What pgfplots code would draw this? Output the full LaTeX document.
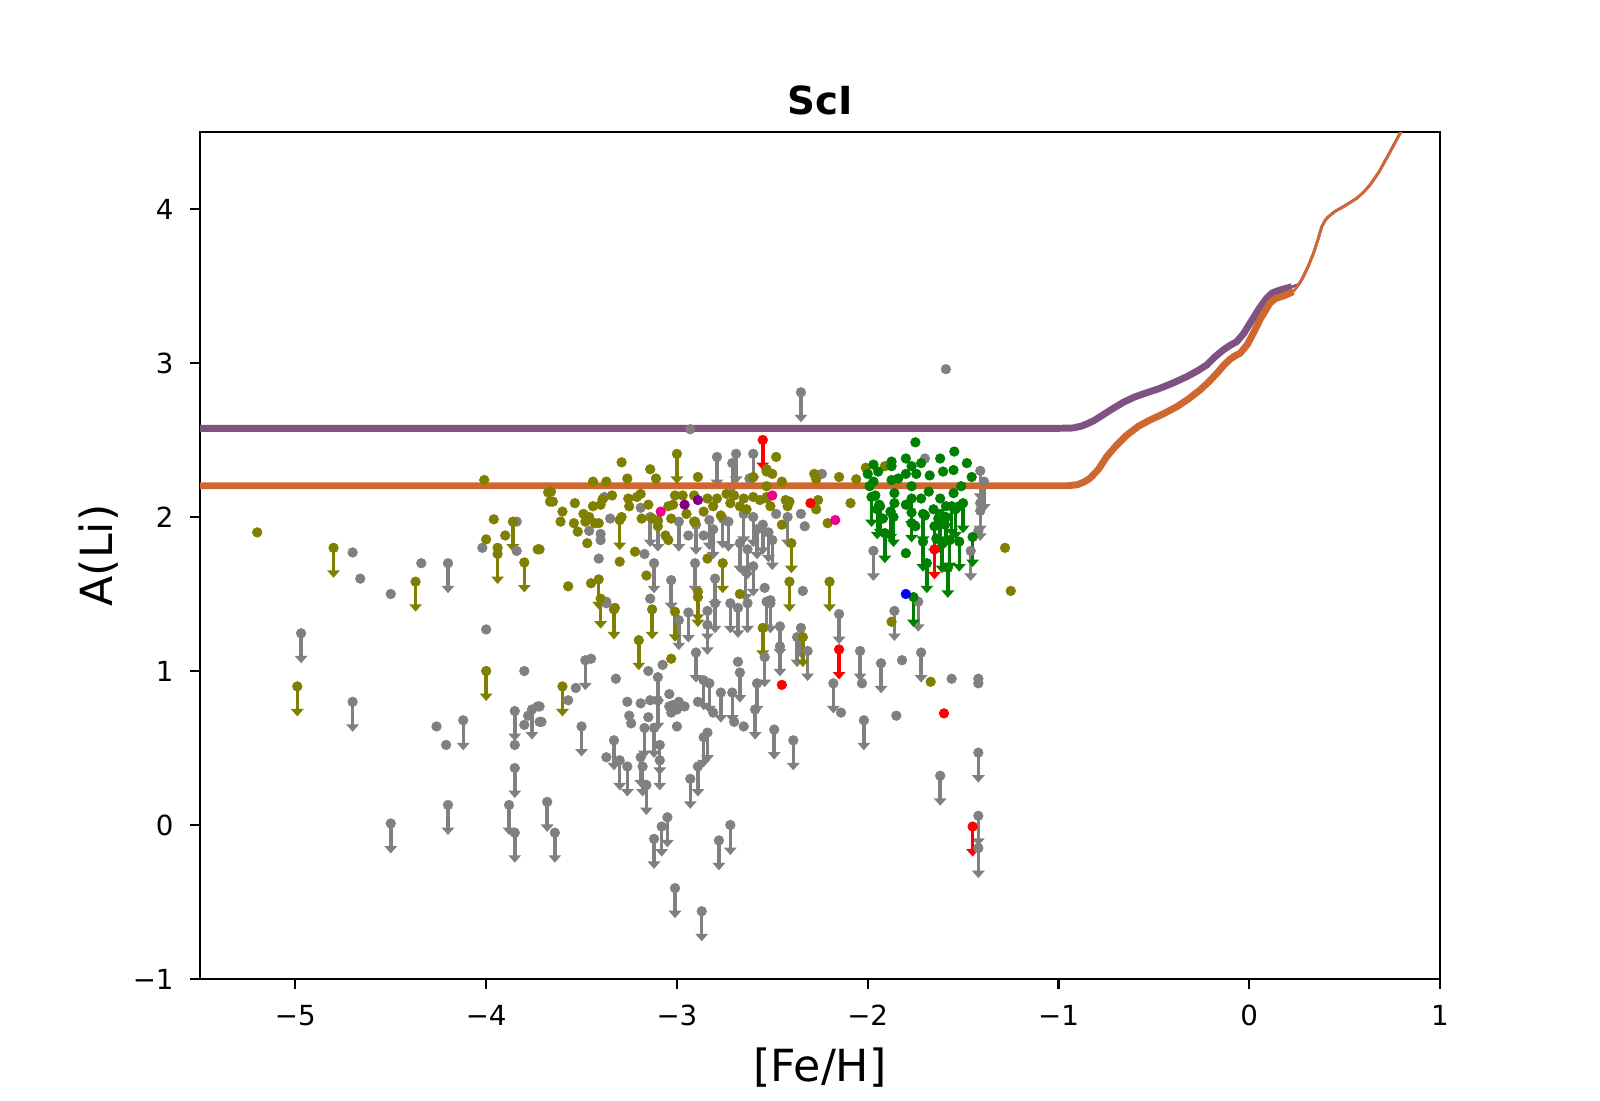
\documentclass[border=0pt]{standalone}
\usepackage{fontspec}
\setmainfont{DejaVu Sans}
\usepackage{pgfplots}
\pgfplotsset{compat=1.18}
\usetikzlibrary{arrows.meta}
\definecolor{cgray}{RGB}{128,128,128}
\definecolor{colive}{RGB}{128,128,0}
\definecolor{cgreen}{RGB}{0,128,0}
\definecolor{cpurp}{RGB}{128,0,128}
\definecolor{lpurp}{RGB}{127,82,130}
\definecolor{lorange}{RGB}{207,104,48}
\pgfplotsset{
  ul/.style={quiver={u=0,v=-0.195}, line width=1.25pt, -{Triangle[width=4.5pt,length=2.7pt]}},
  dot/.style={only marks, mark=*, mark size=1.75pt, mark options={line width=0.2pt}},
}
\begin{document}
\begin{tikzpicture}
\begin{axis}[
  scale only axis, width=6.2in, height=4.235in,
  xmin=-5.5, xmax=1, ymin=-1, ymax=4.5,
  axis line style={line width=0.8bp},
  tick align=outside, major tick length=3.5bp,
  every tick/.style={black, line width=0.8bp},
  xtick pos=lower, ytick pos=left,
  xtick={-5,-4,-3,-2,-1,0,1}, xticklabels={−5,−4,−3,−2,−1,0,1},
  ytick={-1,0,1,2,3,4}, yticklabels={−1,0,1,2,3,4},
  tick label style={font=\fontsize{10}{12}\selectfont},
  xticklabel style={yshift=-2.5pt},
  yticklabel style={xshift=-2.5pt},
  title={ScI},
  title style={font=\fontsize{14}{17}\selectfont\bfseries, at={(axis description cs:0.5,1.0174)}, anchor=center},
  xlabel={[Fe/H]},
  xlabel style={font=\fontsize{16}{19}\selectfont, at={(axis description cs:0.5,-0.104)}, anchor=center},
  ylabel={A(Li)},
  ylabel style={font=\fontsize{16}{19}\selectfont, at={(axis description cs:-0.0815,0.5)}, anchor=center},
]
% ---------- gray upper limits ----------
\pgfplotstableread{
x y
-4.20 1.70
-4.97 1.245
-4.70 0.80
-4.12 0.68
-3.85 0.74
-3.76 0.75
-3.85 0.37
-4.20 0.13
-3.88 0.13
-3.68 0.15
-3.85 -0.05
-4.50 0.01
-3.64 -0.05
-3.26 0.38
-3.30 0.42
-3.18 0.38
-3.19 0.44
-3.16 0.26
-3.09 0.42
-2.93 0.30
-2.89 0.38
-3.05 0.05
-3.08 -0.01
-3.12 -0.09
-2.72 0.00
-2.78 -0.10
-3.01 -0.41
-2.87 -0.56
-2.99 1.33
-2.94 1.38
-2.84 1.39
-2.80 1.44
-2.72 1.44
-2.68 1.41
-2.63 1.44
-2.84 1.30
-2.54 1.09
-3.48 1.07
-2.90 1.12
-2.67 0.99
-2.86 0.94
-2.83 0.92
-3.10 0.96
-3.10 0.81
-2.77 0.86
-2.71 0.86
-2.58 0.92
-2.59 0.75
-3.50 0.64
-3.17 0.63
-3.12 0.63
-3.33 0.55
-3.09 0.52
-2.84 0.60
-2.86 0.57
-2.53 1.45
-2.51 1.44
-2.15 1.37
-1.86 1.39
-1.735 1.45
-2.46 1.29
-2.46 1.16
-2.35 1.28
-2.37 1.22
-2.315 1.13
-2.18 0.92
-2.04 1.13
-1.93 1.05
-1.72 1.12
-2.02 0.68
-2.49 0.62
-2.39 0.55
-1.62 0.32
-1.42 0.47
-1.42 0.06
-1.42 -0.15
-2.79 2.39
-2.69 2.41
-2.71 2.35
-2.60 2.41
-3.14 2.00
-3.10 1.97
-2.99 1.97
-2.90 1.95
-2.83 1.98
-2.81 1.92
-2.76 1.99
-2.73 1.97
-2.65 2.02
-2.60 2.00
-2.58 1.92
-2.55 1.95
-2.52 1.90
-2.50 1.85
-2.67 1.83
-2.63 1.79
-3.12 1.70
-3.03 1.59
-2.905 1.70
-2.80 1.60
-2.60 1.68
-2.64 1.645
-2.35 2.81
-2.42 2.00
-1.97 1.78
-1.41 2.30
-1.39 2.23
-1.41 2.09
-1.41 2.04
-1.46 1.78
}\grayul
\addplot[cgray, ul] table {\grayul};
\addplot[cgray, dot] table {\grayul};
% ---------- gray detections ----------
\addplot[cgray, dot] table {
x y
-4.70 1.77
-4.66 1.60
-4.50 1.50
-4.34 1.70
-4.02 1.80
-3.84 1.97
-3.84 1.78
-4.00 1.27
-3.80 1.00
-4.26 0.64
-4.21 0.52
-3.73 0.77
-3.78 0.71
-3.80 0.65
-3.72 0.67
-3.85 0.52
-3.37 1.44
-3.075 1.04
-3.15 1.00
-3.45 1.08
-3.32 0.95
-3.53 0.89
-3.57 0.81
-3.72 0.77
-3.71 0.67
-2.68 1.06
-3.04 0.85
-2.99 0.80
-3.02 0.78
-2.96 0.77
-3.04 0.77
-3.00 0.75
-3.03 0.73
-2.89 0.80
-2.81 0.73
-2.70 0.67
-2.65 0.64
-3.26 0.80
-3.19 0.79
-3.14 0.81
-3.25 0.71
-3.24 0.66
-3.15 0.70
-3.00 0.64
-3.37 0.44
-2.14 0.73
-2.03 0.92
-1.82 1.07
-1.56 0.95
-1.42 0.95
-1.42 0.92
-1.85 0.71
-2.93 2.57
-2.62 2.25
-3.38 2.13
-3.35 1.99
-3.46 1.91
-3.40 1.89
-3.40 1.85
-3.19 2.06
-2.94 1.88
-2.86 1.88
-3.17 1.76
-3.41 1.73
-3.14 1.47
-3.37 1.45
-1.59 2.96
-2.24 2.28
-2.48 2.02
-2.35 2.02
-2.33 1.94
-2.54 1.54
-2.51 1.46
-2.34 1.52
-1.70 2.38
-1.42 1.91
};
% ---------- model lines ----------
\addplot[lpurp, line width=2.5bp, line join=round] table {
x y
-5.5 2.576
-1.0 2.576
-0.924 2.578
-0.88 2.59
-0.85 2.605
-0.815 2.625
-0.782 2.651
-0.72 2.70
-0.66 2.745
-0.60 2.78
-0.53 2.81
-0.468 2.836
-0.40 2.87
-0.328 2.911
-0.27 2.95
-0.223 2.987
-0.18 3.04
-0.136 3.085
-0.10 3.115
-0.066 3.138
-0.03 3.19
0.004 3.258
0.05 3.35
0.091 3.42
0.12 3.455
0.161 3.474
0.223 3.495
};
\addplot[lorange, line width=2.5bp, line join=round] table {
x y
-5.5 2.203
-0.95 2.203
-0.90 2.21
-0.865 2.228
-0.835 2.251
-0.79 2.31
-0.747 2.392
-0.70 2.46
-0.642 2.532
-0.58 2.59
-0.52 2.63
-0.45 2.67
-0.38 2.716
-0.32 2.765
-0.258 2.825
-0.21 2.88
-0.17 2.933
-0.13 2.99
-0.10 3.025
-0.07 3.05
-0.048 3.063
-0.01 3.12
0.021 3.193
0.06 3.29
0.109 3.39
0.14 3.42
0.179 3.435
0.231 3.463
};
\addplot[lpurp, line width=1bp, line join=round] table {
x y
0.223 3.495
0.26 3.51
0.283 3.56
0.31 3.63
0.336 3.71
0.36 3.80
0.38 3.885
0.40 3.93
0.415 3.95
0.45 3.985
0.493 4.015
0.563 4.069
0.60 4.11
0.633 4.156
0.68 4.24
0.72 4.33
0.79 4.49
0.85 4.62
};
\addplot[lorange, line width=1bp, line join=round] table {
x y
0.231 3.463
0.26 3.51
0.283 3.56
0.31 3.63
0.336 3.71
0.36 3.80
0.38 3.885
0.40 3.93
0.415 3.95
0.45 3.985
0.493 4.015
0.563 4.069
0.60 4.11
0.633 4.156
0.68 4.24
0.72 4.33
0.79 4.49
0.85 4.62
};
% ---------- olive ----------
\pgfplotstableread{
x y
-4.80 1.80
-4.37 1.58
-3.86 1.97
-3.94 1.76
-3.80 1.705
-4.99 0.90
-4.00 1.00
-3.00 2.41
-3.30 1.98
-3.41 1.595
-2.76 1.70
-2.89 1.515
-3.40 1.47
-3.33 1.40
-3.13 1.40
-3.01 1.385
-2.89 1.48
-2.55 1.28
-3.20 1.20
-3.60 0.90
-2.40 1.83
-2.41 1.58
-2.20 1.58
-2.34 1.22
}\oliveul
\addplot[colive, ul] table {\oliveul};
\addplot[colive, dot] table {\oliveul};
\addplot[colive, dot] table {
x y
-5.20 1.90
-4.01 2.24
-3.96 1.985
-4.00 1.855
-3.90 1.88
-3.94 1.80
-3.73 1.79
-3.675 2.16
-3.665 2.10
-3.29 2.355
-3.14 2.31
-3.26 2.25
-2.89 2.26
-3.11 2.25
-3.44 2.23
-3.37 2.23
-2.60 2.26
-2.53 2.295
-3.66 2.165
-3.65 2.10
-3.535 2.09
-3.60 2.035
-3.61 1.97
-3.54 1.96
-3.52 1.905
-3.47 1.83
-3.72 1.79
-3.49 2.02
-3.46 2.00
-3.44 2.07
-3.40 2.08
-3.41 1.96
-3.48 1.97
-3.43 1.96
-3.29 2.00
-3.25 2.07
-3.255 2.12
-3.19 2.15
-3.21 2.13
-3.34 2.14
-3.39 2.115
-3.15 2.08
-3.045 2.07
-3.02 2.08
-3.01 2.14
-2.97 2.14
-2.91 2.14
-2.84 2.12
-2.79 2.12
-2.74 2.15
-2.70 2.14
-2.65 2.12
-2.60 2.13
-2.565 2.11
-2.53 2.12
-3.185 1.99
-3.13 1.99
-3.10 1.98
-3.03 1.99
-2.95 2.02
-2.91 1.97
-2.86 2.035
-2.81 2.07
-2.77 2.01
-2.72 2.09
-2.67 2.07
-2.635 2.05
-3.22 1.775
-3.30 1.71
-3.57 1.55
-3.45 1.57
-3.16 1.62
-2.84 1.73
-3.325 1.41
-2.67 1.50
-3.06 1.88
-3.10 1.94
-2.905 1.97
-3.045 1.85
-2.48 2.39
-2.53 2.31
-2.50 2.28
-2.45 2.23
-2.28 2.28
-2.27 2.245
-2.15 2.26
-2.06 2.245
-2.01 2.32
-1.91 2.33
-2.26 2.11
-2.27 2.05
-2.09 2.09
-2.21 1.96
-2.53 2.20
-2.53 2.13
-2.51 2.07
-2.43 2.11
-2.41 2.10
-2.42 2.07
-2.45 1.95
-3.03 1.08
-1.875 1.32
-1.67 0.93
-1.28 1.80
-1.25 1.52
};
% ---------- green ----------
\pgfplotstableread{
x y
-1.98 2.13
-1.935 2.07
-1.88 2.035
-1.865 2.00
-1.91 1.895
-1.77 2.12
-1.77 2.03
-1.71 2.02
-1.71 1.84
-1.62 2.02
-1.62 1.96
-1.56 2.07
-1.50 2.09
-1.69 1.70
-1.58 1.67
-1.52 1.84
-1.45 1.87
-1.65 1.94
-1.61 1.83
-1.57 1.85
-1.76 1.48
-1.95 2.05
-1.54 2.05
-1.59 2.00
}\greenul
\addplot[cgreen, ul] table {\greenul};
\addplot[cgreen, dot] table {\greenul};
\addplot[cgreen, dot] table {
x y
-1.75 2.485
-1.546 2.425
-1.62 2.38
-1.48 2.35
-1.80 2.38
-1.875 2.36
-1.875 2.33
-1.97 2.34
-1.945 2.295
-1.72 2.35
-1.77 2.33
-1.745 2.28
-1.675 2.27
-1.605 2.295
-1.55 2.305
-1.455 2.26
-1.80 2.28
-1.84 2.25
-1.875 2.24
-1.97 2.23
-1.77 2.20
-1.68 2.165
-1.55 2.155
-1.51 2.20
-1.96 2.14
-1.86 2.155
-1.72 2.12
-1.62 2.12
-1.94 2.08
-1.80 2.08
-1.86 2.09
-1.655 2.05
-1.59 2.07
-1.52 2.07
-1.70 2.01
-1.88 2.035
-1.92 1.99
-1.77 1.96
-1.75 1.94
-1.63 1.99
-1.595 1.95
-1.64 1.86
-1.80 1.765
-2.00 2.28
-1.99 2.20
};
% ---------- red ----------
\addplot[red, ul] table {
x y
-2.55 2.50
-2.15 1.14
-1.65 1.79
-1.45 -0.01
};
\addplot[red, dot] table {
x y
-2.55 2.50
-2.15 1.14
-1.65 1.79
-1.45 -0.01
-2.30 2.09
-2.45 0.91
-1.60 0.725
};
% ---------- others ----------
\addplot[magenta, dot] table {
x y
-3.085 2.035
-2.17 1.98
-2.50 2.14
};
\addplot[blue, dot] table {
x y
-1.80 1.50
};
\addplot[cpurp, dot] table {
x y
-2.96 2.08
-2.89 2.11
};
\end{axis}
\path ([shift={(-1in,-0.605in)}]current axis.south west) rectangle ([shift={(0.8in,0.66in)}]current axis.north east);
\end{tikzpicture}
\end{document}
